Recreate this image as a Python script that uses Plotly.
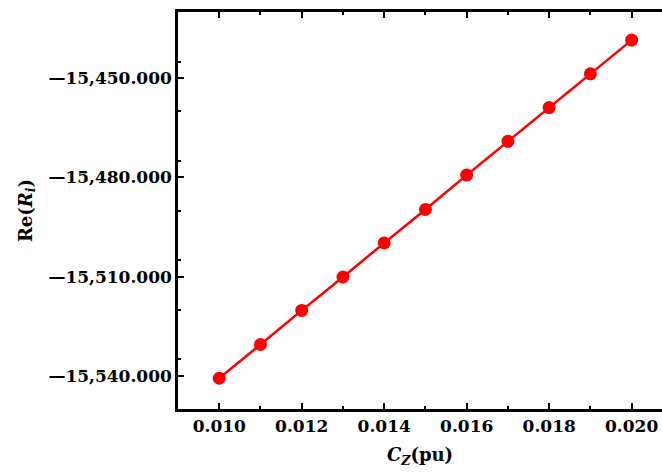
import plotly.graph_objects as go

# Coupling coefficient C_Z (pu) and the real part of R_i
cz = [0.010, 0.011, 0.012, 0.013, 0.014, 0.015, 0.016, 0.017, 0.018, 0.019, 0.020]
re_ri = [-15540.7, -15530.5, -15520.2, -15510.1, -15499.8, -15489.7,
         -15479.3, -15469.1, -15458.9, -15448.7, -15438.5]

x_ticks = [0.010, 0.012, 0.014, 0.016, 0.018, 0.020]
x_labels = ["0.010", "0.012", "0.014", "0.016", "0.018", "0.020"]
y_ticks = [-15540, -15510, -15480, -15450]
y_labels = ["\u201415,540.000", "\u201415,510.000", "\u201415,480.000", "\u201415,450.000"]

font_family = "DejaVu Serif"

fig = go.Figure(
    go.Scatter(
        x=cz, y=re_ri, mode="lines+markers",
        line=dict(color="#ff0000", width=2.5, shape="spline", smoothing=0.6),
        marker=dict(color="#ff0000", size=13),
        showlegend=False,
    )
)

axis_common = dict(
    showgrid=False, zeroline=False,
    showline=True, linecolor="black", linewidth=2.5,
    ticks="inside", ticklen=6, tickwidth=2, tickcolor="black",
    tickfont=dict(family=font_family, size=17, color="black", weight="bold"),
)

fig.update_xaxes(
    **axis_common,
    range=[0.009, 0.020736], mirror="ticks",
    tickvals=x_ticks, ticktext=x_labels,
    minor=dict(dtick=0.001, tick0=0.009, ticks="inside", ticklen=3, tickwidth=2, tickcolor="black"),
    title=dict(text="<i>C<sub>Z</sub></i>(pu)", font=dict(family=font_family, size=18, color="black", weight="bold"), standoff=14),
)
fig.update_yaxes(
    **axis_common,
    range=[-15550, -15430], mirror=False,
    tickvals=y_ticks, ticktext=y_labels,
    minor=dict(dtick=15, tick0=-15550, ticks="inside", ticklen=3, tickwidth=2, tickcolor="black"),
    title=dict(text="Re(<i>R<sub>i</sub></i>)", font=dict(family=font_family, size=18, color="black", weight="bold"), standoff=12),
)

fig.update_layout(
    width=662, height=473,
    margin=dict(l=178, r=0, t=12, b=64),
    plot_bgcolor="white", paper_bgcolor="white",
)

fig.write_html("out.html")
